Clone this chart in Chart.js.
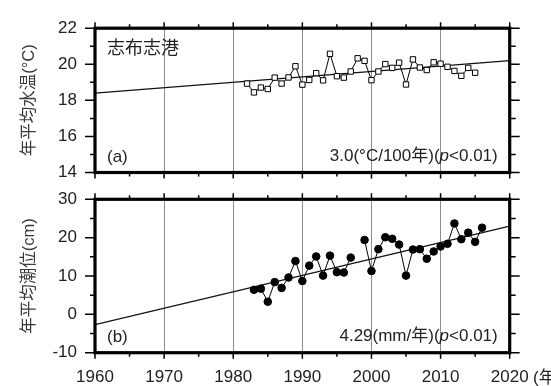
<!DOCTYPE html>
<html><head><meta charset="utf-8">
<script src="https://cdn.jsdelivr.net/npm/chart.js@4/dist/chart.umd.min.js"></script>
<style>
html,body{margin:0;padding:0;background:#fff;width:551px;height:386px;overflow:hidden}
canvas{position:absolute;left:0;top:0}
</style></head><body>
<canvas id="c1" width="551" height="386"></canvas>
<canvas id="c2" width="551" height="386"></canvas>
<script>
// ---- data ----
const tempYears = [1982,1983,1984,1985,1986,1987,1988,1989,1990,1991,1992,1993,1994,1995,1996,1997,1998,1999,2000,2001,2002,2003,2004,2005,2006,2007,2008,2009,2010,2011,2012,2013,2014,2015];
const tempValues = [18.93,18.44,18.71,18.63,19.26,18.93,19.27,19.89,18.87,19.13,19.51,19.11,20.58,19.34,19.26,19.60,20.33,20.19,19.12,19.60,20.01,19.80,20.09,18.88,20.27,19.82,19.68,20.11,20.03,19.86,19.63,19.36,19.80,19.53];
const tideYears = [1983,1984,1985,1986,1987,1988,1989,1990,1991,1992,1993,1994,1995,1996,1997,1998,1999,2000,2001,2002,2003,2004,2005,2006,2007,2008,2009,2010,2011,2012,2013,2014,2015,2016];
const tideValues = [6.4,6.7,3.3,8.4,6.9,9.6,13.9,8.7,12.7,15.1,10.1,15.3,11.0,10.9,14.8,null,19.4,11.3,17.0,20.1,19.7,18.2,10.1,16.9,17.0,14.5,16.4,17.7,18.4,23.7,19.6,21.3,18.9,22.6];
const trendYears = [1960, 2020];
const tempTrend = [18.4, 20.2];
const tideTrend = [-2.7, 23.0];
const xTickValues = [1960,1970,1980,1990,2000,2010,2020];
const tempTicks = [14,16,18,20,22];
const tideTicks = [-10,0,10,20,30];
const labels = {
  title: '志布志港',
  tempAxis: '年平均水温(°C)',
  tideAxis: '年平均潮位(cm)',
  panelA: '(a)', panelB: '(b)',
  tempRate: ['3.0(°C/100年)(', 'p', '<0.01)'],
  tideRate: ['4.29(mm/年)(', 'p', '<0.01)'],
  xUnit: '(年)'
};

const FONT = "'Liberation Sans','Noto Sans CJK JP',sans-serif";
const TXT = '#222';
const toXY = (xs, ys) => xs.map((x, i) => ({x: x, y: ys[i]}));

function deco(cfg) {
  return {
    id: 'deco',
    afterDraw(chart) {
      const ctx = chart.ctx, a = chart.chartArea, xs = chart.scales.x, ys = chart.scales.y;
      ctx.save();
      ctx.strokeStyle = '#000';
      ctx.lineWidth = 1.5;
      ctx.beginPath();
      for (let v = xs.min; v <= xs.max + 1e-9; v += 5) {
        const px = xs.getPixelForValue(v);
        const len = (v % 10 === 0) ? 6 : 4;
        ctx.moveTo(px, a.top); ctx.lineTo(px, a.top - len);
        ctx.moveTo(px, a.bottom); ctx.lineTo(px, a.bottom + len);
      }
      for (let v = ys.min; v <= ys.max + 1e-9; v += cfg.yMinor) {
        const py = ys.getPixelForValue(v);
        const major = Math.abs(Math.round(v / cfg.yMajor) * cfg.yMajor - v) < 1e-6;
        ctx.moveTo(a.left, py); ctx.lineTo(a.left - (major ? 10 : 5), py);
        ctx.moveTo(a.right, py); ctx.lineTo(a.right + (major ? 10 : 6), py);
      }
      ctx.stroke();
      ctx.lineWidth = 3.2;
      ctx.strokeRect(a.left, a.top, a.right - a.left, a.bottom - a.top);
      ctx.fillStyle = TXT;
      ctx.textBaseline = 'middle';
      ctx.textAlign = 'left';
      if (cfg.title) {
        ctx.font = "18px " + FONT;
        ctx.fillText(cfg.title, a.left + 12, a.top + 21);
      }
      ctx.font = "17px " + FONT;
      ctx.fillText(cfg.panel, a.left + 12, a.bottom - 15);
      const parts = cfg.rate;
      const fN = "17px " + FONT, fI = "italic 17px " + FONT;
      ctx.font = fN; const w0 = ctx.measureText(parts[0]).width, w2 = ctx.measureText(parts[2]).width;
      ctx.font = fI; const w1 = ctx.measureText(parts[1]).width;
      let x0 = a.right - 12 - (w0 + w1 + w2);
      const yy = a.bottom - 16;
      ctx.font = fN; ctx.fillText(parts[0], x0, yy);
      ctx.font = fI; ctx.fillText(parts[1], x0 + w0, yy);
      ctx.font = fN; ctx.fillText(parts[2], x0 + w0 + w1, yy);
      if (cfg.xUnit) {
        ctx.font = "17px " + FONT;
        ctx.fillText(cfg.xUnit, 533, 378);
      }
      ctx.restore();
    }
  };
}

function makeChart(id, opt) {
  return new Chart(document.getElementById(id), {
    type: 'line',
    data: {
      datasets: [
        Object.assign({
          data: toXY(opt.xs, opt.ys),
          borderColor: '#000', borderWidth: 1, tension: 0, spanGaps: false
        }, opt.pointStyle),
        {
          data: toXY(trendYears, opt.trend),
          borderColor: '#111', borderWidth: 1.3, pointRadius: 0, tension: 0
        }
      ]
    },
    options: {
      responsive: false, animation: false, events: [],
      layout: {padding: {left: 0, top: opt.top, right: 41.3, bottom: 0}},
      plugins: {legend: {display: false}, tooltip: {enabled: false}},
      scales: {
        x: {
          type: 'linear', min: 1960, max: 2020,
          afterBuildTicks: s => { s.ticks = xTickValues.map(v => ({value: v})); },
          ticks: {display: opt.showX, padding: 14, color: TXT, font: {family: FONT, size: 17}, maxRotation: 0, autoSkip: false,
                  callback: v => String(v)},
          grid: {
            color: c => (c.tick && (c.tick.value === 1960 || c.tick.value === 2020)) ? 'rgba(0,0,0,0)' : '#8c8c8c',
            lineWidth: 1, drawTicks: false
          },
          border: {display: false},
          afterFit: s => { s.height = 386 - opt.bottom; }
        },
        y: {
          min: opt.ymin, max: opt.ymax,
          afterBuildTicks: s => { s.ticks = opt.yTicks.map(v => ({value: v})); },
          ticks: {padding: 18, color: TXT, font: {family: FONT, size: 17}, callback: v => String(v)},
          grid: {display: false, drawTicks: false},
          border: {display: false},
          title: {display: true, text: opt.yTitle, color: '#3a3a3a', font: {family: FONT, size: 16.5}, padding: {top: 20, bottom: 0}},
          afterFit: s => { s.width = 95; }
        }
      }
    },
    plugins: [deco(opt.deco)]
  });
}

makeChart('c1', {
  xs: tempYears, ys: tempValues, trend: tempTrend,
  pointStyle: {pointStyle: 'rect', pointRadius: 3.8, pointBackgroundColor: '#fff', pointBorderColor: '#000', pointBorderWidth: 1},
  top: 16.5, bottom: 172.5, ymin: 14, ymax: 22, yTicks: tempTicks, yTitle: labels.tempAxis, showX: false,
  deco: {yMinor: 1, yMajor: 2, title: labels.title, panel: labels.panelA, rate: labels.tempRate}
});
makeChart('c2', {
  xs: tideYears, ys: tideValues, trend: tideTrend,
  pointStyle: {pointStyle: 'circle', pointRadius: 3.8, pointBackgroundColor: '#000', pointBorderColor: '#000', pointBorderWidth: 1},
  top: 199.3, bottom: 352.7, ymin: -10, ymax: 30, yTicks: tideTicks, yTitle: labels.tideAxis, showX: true,
  deco: {yMinor: 5, yMajor: 10, panel: labels.panelB, rate: labels.tideRate, xUnit: labels.xUnit}
});
</script>
</body></html>
